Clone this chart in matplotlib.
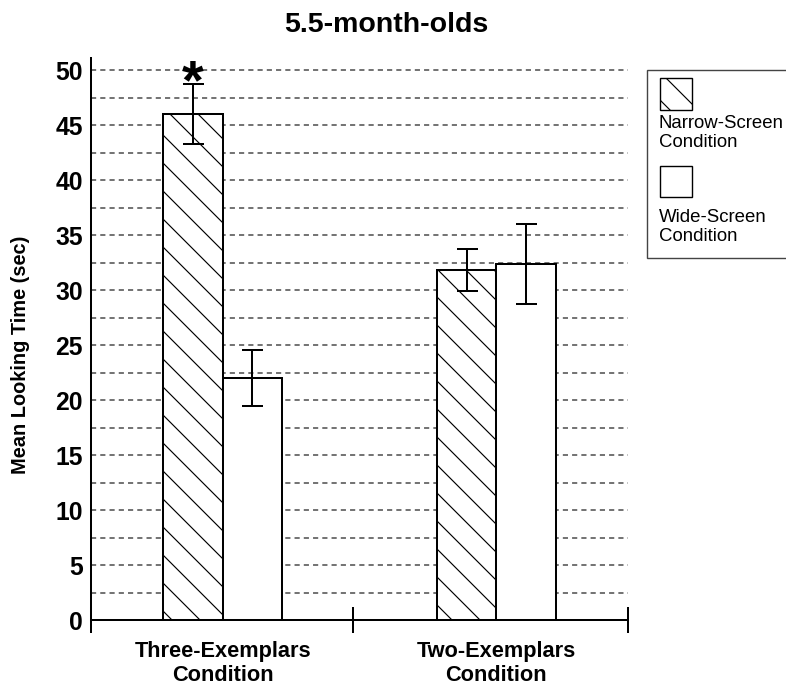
import matplotlib
matplotlib.use("Agg")
import matplotlib.pyplot as plt
from matplotlib.patches import Rectangle

plt.rcParams['font.family'] = ['Liberation Sans', 'DejaVu Sans']
plt.rcParams['hatch.linewidth'] = 0.5
plt.rcParams['hatch.color'] = 'black'

# mean looking times (sec) and standard errors
conditions = ["Three-Exemplars\nCondition", "Two-Exemplars\nCondition"]
narrow_means = [46.0, 31.8]
narrow_err = [2.7, 1.9]
wide_means = [22.0, 32.4]
wide_err = [2.55, 3.65]
significant = [True, False]

DPI = 168
W, H = 786, 694

fig = plt.figure(figsize=(W / DPI, H / DPI), dpi=DPI)
ax = fig.add_axes([91 / W, 1 - 620 / H, (628 - 91) / W, (620 - 58) / H])

centers = [0.49, 1.51]
bw = 0.22
lw = 0.86
hatch = '\\\\'

nx = [c - bw / 2 for c in centers]
wx = [c + bw / 2 for c in centers]

ax.bar(nx, narrow_means, width=bw, color='white', edgecolor='black',
       linewidth=lw, hatch=hatch, zorder=2)
ax.bar(wx, wide_means, width=bw, color='white', edgecolor='black',
       linewidth=lw, zorder=2)
ax.errorbar(nx, narrow_means, yerr=narrow_err, fmt='none', ecolor='black',
            elinewidth=lw, capsize=4.5, capthick=lw, zorder=3)
ax.errorbar(wx, wide_means, yerr=wide_err, fmt='none', ecolor='black',
            elinewidth=lw, capsize=4.5, capthick=lw, zorder=3)

# significance marker above the error bar
for x, m, e, s in zip(nx, narrow_means, narrow_err, significant):
    if s:
        ax.annotate('*', xy=(x, m + e), xytext=(0, -11), textcoords='offset points',
                    ha='center', va='bottom', fontsize=24, fontweight='bold')

ax.set_xlim(0, 2)
ax.set_ylim(0, 51.1)

# gridlines every 2.5 s
ax.set_yticks(range(0, 51, 5))
ax.set_yticks([2.5 + 5 * i for i in range(10)], minor=True)
ax.grid(axis='y', which='both', color='#4a4a4a', linewidth=0.65,
        linestyle=(0, (3.4, 2.7)))
ax.set_axisbelow(True)

ax.tick_params(axis='y', which='both', length=0, pad=3.5,
               labelsize=10.6, labelcolor='black')
for t in ax.get_yticklabels():
    t.set_fontweight('bold')

# group boundary ticks + category labels
ax.set_xticks([0, 0.976, 2])
ax.set_xticklabels([])
ax.tick_params(axis='x', which='major', direction='inout', length=11,
               width=lw, color='black')
ax.set_xticks(centers, labels=conditions, minor=True)
ax.tick_params(axis='x', which='minor', length=0, pad=9.0, labelsize=9.3)
for t in ax.get_xticklabels(minor=True):
    t.set_fontweight('bold')
    t.set_linespacing(1.2)

ax.spines['top'].set_visible(False)
ax.spines['right'].set_visible(False)
ax.spines['left'].set_linewidth(lw)
ax.spines['bottom'].set_linewidth(lw)

ax.set_ylabel('Mean Looking Time (sec)', fontsize=8.6, fontweight='bold')
ax.yaxis.set_label_coords((30 - 91) / 537, 0.4715)

fig.text(386 / W, 1 - 25 / H, '5.5-month-olds', ha='center', va='center',
         fontsize=12.2, fontweight='bold')

# legend drawn as a boxed panel on the right
ft = fig.transFigure
fig.patches.append(Rectangle((647 / W, 1 - 258 / H), 140 / W, 188 / H,
                             transform=ft, fill=False, edgecolor='#444444',
                             linewidth=0.6))
fig.patches.append(Rectangle((660 / W, 1 - 110 / H), 32 / W, 32 / H,
                             transform=ft, facecolor='white',
                             edgecolor='black', linewidth=0.6, hatch=hatch))
fig.patches.append(Rectangle((660 / W, 1 - 197 / H), 32 / W, 31 / H,
                             transform=ft, facecolor='white',
                             edgecolor='black', linewidth=0.6))
fig.text(659 / W, 1 - 147 / H, 'Narrow-Screen\nCondition', ha='left',
         va='baseline', fontsize=8.0, linespacing=1.15)
fig.text(659 / W, 1 - 241 / H, 'Wide-Screen\nCondition', ha='left',
         va='baseline', fontsize=8.0, linespacing=1.15)

fig.savefig('out.png', dpi=DPI)
